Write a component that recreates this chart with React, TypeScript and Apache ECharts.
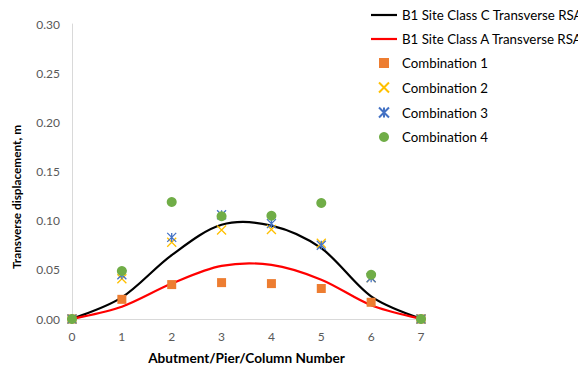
import React, { useEffect, useRef } from "react";
import * as echarts from "echarts";

const piers = [0, 1, 2, 3, 4, 5, 6, 7];
const siteClassC = [0, 0.022, 0.065, 0.0958, 0.095, 0.072, 0.023, 0];
const siteClassA = [0, 0.0125, 0.036, 0.054, 0.055, 0.040, 0.014, 0];
const combination1 = [0, 0.020, 0.035, 0.037, 0.036, 0.031, 0.017, 0];
const combination2 = [0, 0.041, 0.078, 0.0905, 0.091, 0.077, 0.042, 0];
const combination3 = [0, 0.045, 0.083, 0.106, 0.097, 0.075, 0.042, 0];
const combination4 = [0, 0.0488, 0.119, 0.1045, 0.105, 0.118, 0.045, 0];
const yTicks = { min: 0, max: 0.3, interval: 0.05 };
const xTicks = { min: 0, max: 7, interval: 1 };

const FONT = "Lato, 'Liberation Sans', sans-serif";

const pair = (ys: number[]) => piers.map((x, i) => [x, ys[i]]);

const LINE_ICON = "path://M0,0H26V2.2H0Z";
const SQUARE_ICON = "path://M0,0H10V10H0Z";

// Excel-like smoothed line (Catmull-Rom style Bezier) drawn through the axis scales
function smoothCurveSeries(name: string, ys: number[], color: string) {
  return {
    name,
    type: "custom",
    data: pair(ys),
    encode: { x: 0, y: 1 },
    itemStyle: { color },
    z: 1,
    renderItem: (params: any, api: any) => {
      if (params.dataIndex !== 0) return null;
      const pts = piers.map((x, i) => api.coord([x, ys[i]]));
      const n = pts.length;
      let d = `M${pts[0][0]},${pts[0][1]}`;
      for (let i = 0; i < n - 1; i++) {
        const p0 = pts[Math.max(i - 1, 0)];
        const p1 = pts[i];
        const p2 = pts[i + 1];
        const p3 = pts[Math.min(i + 2, n - 1)];
        const c1x = p1[0] + (p2[0] - p0[0]) / 6;
        const c1y = p1[1] + (p2[1] - p0[1]) / 6;
        const c2x = p2[0] - (p3[0] - p1[0]) / 6;
        const c2y = p2[1] - (p3[1] - p1[1]) / 6;
        d += ` C${c1x},${c1y} ${c2x},${c2y} ${p2[0]},${p2[1]}`;
      }
      return {
        type: "path",
        shape: { pathData: d },
        style: { fill: "none", stroke: color, lineWidth: 2.2 },
        silent: true,
      };
    },
  };
}

export default function App() {
  const ref = useRef<HTMLDivElement>(null);
  useEffect(() => {
    if (!ref.current) return;
    const chart = echarts.init(ref.current, undefined, { renderer: "svg" });
    chart.setOption({
      animation: false,
      backgroundColor: "#ffffff",
      textStyle: { fontFamily: FONT },
      grid: { left: 72, right: 157, top: 24, bottom: 48, outerBoundsMode: "none", containLabel: false },
      legend: {
        orient: "vertical",
        left: 371,
        top: 8,
        padding: 0,
        itemWidth: 26,
        itemHeight: 10,
        itemGap: 10,
        textStyle: { fontFamily: FONT, fontSize: 13.3, color: "#000", lineHeight: 14 },
        data: [
          { name: "B1 Site Class C Transverse RSA", icon: LINE_ICON, itemStyle: { color: "#000000" } },
          { name: "B1 Site Class A Transverse RSA", icon: LINE_ICON, itemStyle: { color: "#ff0000" } },
          { name: "Combination 1", icon: SQUARE_ICON, itemStyle: { color: "#ED7D31" } },
          { name: "Combination 2" },
          { name: "Combination 3" },
          { name: "Combination 4" },
        ],
      },
      graphic: [
        {
          type: "text",
          x: 16,
          y: 197,
          rotation: Math.PI / 2,
          style: {
            text: "Transverse displacement, m",
            align: "center",
            verticalAlign: "middle",
            fontFamily: FONT,
            fontWeight: "bold",
            fontSize: 11.8,
            fill: "#000",
          },
        },
      ],
      xAxis: {
        type: "value",
        min: xTicks.min,
        max: xTicks.max,
        interval: xTicks.interval,
        name: "Abutment/Pier/Column Number",
        nameLocation: "middle",
        nameGap: 32,
        nameTextStyle: { fontFamily: FONT, fontWeight: "bold", fontSize: 13.6, color: "#000" },
        axisLine: { lineStyle: { color: "#d9d9d9", width: 1 } },
        axisTick: { show: false },
        splitLine: { show: false },
        axisLabel: { color: "#595959", fontSize: 12, margin: 11, fontFamily: FONT },
      },
      yAxis: {
        type: "value",
        min: yTicks.min,
        max: yTicks.max,
        interval: yTicks.interval,
        axisLine: { show: true, lineStyle: { color: "#d9d9d9", width: 1 } },
        axisTick: { show: false },
        splitLine: { show: false },
        axisLabel: {
          color: "#595959",
          fontSize: 12,
          margin: 12,
          fontFamily: FONT,
          formatter: (v: number) => v.toFixed(2),
        },
      },
      series: [
        smoothCurveSeries("B1 Site Class C Transverse RSA", siteClassC, "#000000"),
        smoothCurveSeries("B1 Site Class A Transverse RSA", siteClassA, "#ff0000"),
        {
          name: "Combination 1",
          type: "scatter",
          symbol: "rect",
          symbolSize: 9,
          z: 2,
          data: pair(combination1),
          itemStyle: { color: "#ED7D31", opacity: 1 },
        },
        {
          name: "Combination 2",
          type: "scatter",
          symbol: "path://M0,0L10,10M10,0L0,10",
          symbolSize: 9,
          z: 2,
          data: pair(combination2),
          itemStyle: { color: "none", borderColor: "#FFC000", borderWidth: 1.3, opacity: 1 },
        },
        {
          name: "Combination 3",
          type: "scatter",
          symbol: "path://M0,0L10,10M10,0L0,10M5,0L5,10",
          symbolSize: 9,
          z: 2,
          data: pair(combination3),
          itemStyle: { color: "none", borderColor: "#4472C4", borderWidth: 1.3, opacity: 1 },
        },
        {
          name: "Combination 4",
          type: "scatter",
          symbol: "circle",
          symbolSize: 10,
          z: 2,
          data: pair(combination4),
          itemStyle: { color: "#70AD47", opacity: 1 },
        },
      ],
    });
    return () => chart.dispose();
  }, []);
  return (
    <div
      ref={ref}
      style={{ position: "fixed", left: 0, top: 0, width: 578, height: 367 }}
    />
  );
}
